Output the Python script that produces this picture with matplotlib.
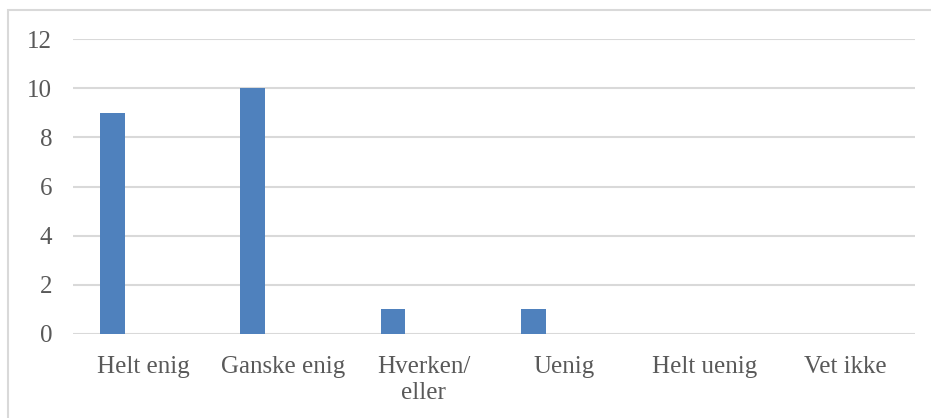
import matplotlib.pyplot as plt
from matplotlib.patches import Rectangle
import numpy as np

categories = ['Helt enig', 'Ganske enig', 'Hverken/\neller', 'Uenig', 'Helt uenig', 'Vet ikke']
counts = [9, 10, 1, 1, 0, 0]
yticks = [0, 2, 4, 6, 8, 10, 12]

W, H = 931, 418
fig = plt.figure(figsize=(W / 100, H / 100), dpi=100)
plt.rcParams['font.family'] = ['Liberation Serif', 'DejaVu Serif']

# chart frame, cut off at the right and bottom edges
fig.patches.append(Rectangle((8 / W, -0.1), 1.2, (H - 10) / H + 0.1, transform=fig.transFigure,
                             fill=False, edgecolor='#d9d9d9', linewidth=1.5))

ax = fig.add_axes([73 / W, 84 / H, (915 - 73) / W, (334 - 39) / H])
x = np.arange(len(categories))
ax.bar(x - 0.22, counts, width=0.175, color='#4f81bd', zorder=3)

ax.set_xlim(-0.5, len(categories) - 0.5)
ax.set_ylim(0, 12)
ax.set_yticks(yticks)
ax.set_xticks(x)
ax.set_xticklabels(categories, fontsize=18, color='#595959', linespacing=1.25)
ax.tick_params(axis='y', labelsize=18, labelcolor='#595959', length=0, pad=15)
ax.tick_params(axis='x', length=0, pad=16)
ax.grid(axis='y', color='#d9d9d9', linewidth=1.5, zorder=0)
for s in ax.spines.values():
    s.set_visible(False)

fig.savefig('out.png', dpi=100)
